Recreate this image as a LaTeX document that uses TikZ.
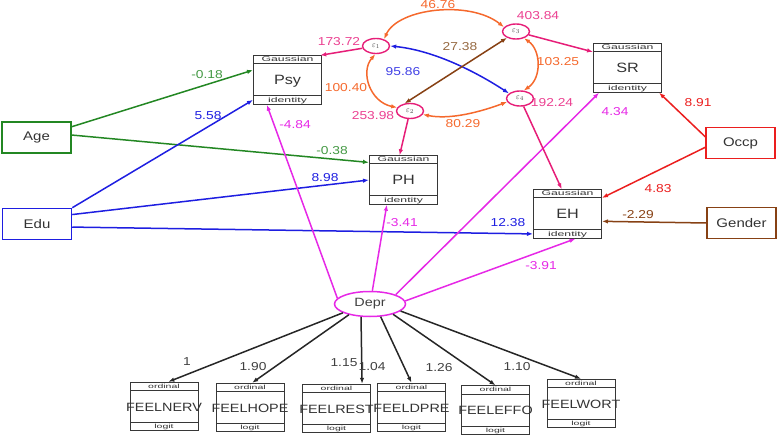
\documentclass[tikz,border=0pt]{standalone}
\usepackage{fontspec}
\setmainfont{Liberation Sans}[FakeStretch=1.2]
\newfontfamily\stripfont{Liberation Sans}[FakeStretch=1.75]
\usepackage{xcolor}
\usepackage{tikz}
\usetikzlibrary{shapes,arrows.meta,positioning}
\definecolor{agegreen}{RGB}{35,135,35}
\definecolor{edublue}{RGB}{30,30,225}
\definecolor{occred}{RGB}{235,30,30}
\definecolor{genbrown}{RGB}{135,65,20}
\definecolor{deprmag}{RGB}{230,40,230}
\definecolor{errpink}{RGB}{230,30,120}
\definecolor{varpink}{RGB}{235,65,145}
\definecolor{covorange}{RGB}{245,105,45}
\definecolor{covbrown}{RGB}{150,105,65}
\definecolor{boxgray}{RGB}{55,55,55}
\tikzstyle{arrow} = [line width=1.5pt,-{Latex[length=6pt,width=4.5pt]}]
\tikzstyle{covar} = [line width=1.5pt,{Latex[length=6pt,width=4.5pt]}-{Latex[length=6pt,width=4.5pt]}]
\newcommand{\strip}[2]{{\stripfont\fontsize{#1}{#1}\selectfont\rule[-1.6pt]{0pt}{7.2pt}#2}}
\newcommand{\boxtext}[2]{{\fontsize{#1}{#1}\selectfont\rule[-11pt]{0pt}{31pt}\makebox[0pt]{#2}}}

\begin{document}
\begin{tikzpicture}[x=1pt,y=-1pt]
    \tikzstyle{outcome}=[draw=boxgray, line width=1pt, rectangle split, rectangle split parts=3, minimum width=68pt, inner sep=0pt, text=black!80]
    \tikzstyle{exo}=[draw, rectangle, minimum width=69pt, minimum height=31pt, line width=1.5pt, text=black!80, font=\fontsize{12.5}{13}\selectfont]
    \tikzstyle{latent}=[draw=deprmag, ellipse, minimum width=71pt, minimum height=25pt, line width=1.5pt, inner sep=0pt, text=black!75, font=\fontsize{12}{12}\selectfont]
    \tikzstyle{err}=[draw=errpink, ellipse, minimum width=27pt, minimum height=15pt, inner sep=0pt, line width=1.4pt, text=black!70, font=\fontsize{8}{8}\selectfont]
    \tikzstyle{coef}=[inner sep=1pt, font=\fontsize{11.5}{12}\selectfont]
    \useasboundingbox (0,0) rectangle (778,435);

    \node[exo, draw=agegreen] (age) at (36.5,137.5) {Age};
    \node[exo, draw=edublue] (edu) at (37,224) {Edu};
    \node[exo, draw=occred] (occp) at (740.5,143) {Occp};
    \node[exo, draw=genbrown] (gender) at (741.5,223) {Gender};

    \node[outcome] (psy) at (287.5,80) {\strip{7}{Gaussian}\nodepart{two}\boxtext{13.5}{Psy}\nodepart{three}\strip{7}{identity}};
    \node[outcome] (ph) at (403.5,180) {\strip{7}{Gaussian}\nodepart{two}\boxtext{13.5}{PH}\nodepart{three}\strip{7}{identity}};
    \node[outcome] (sr) at (627.5,68) {\strip{7}{Gaussian}\nodepart{two}\boxtext{13.5}{SR}\nodepart{three}\strip{7}{identity}};
    \node[outcome] (eh) at (567.5,214) {\strip{7}{Gaussian}\nodepart{two}\boxtext{13.5}{EH}\nodepart{three}\strip{7}{identity}};

    \node[outcome] (nerv) at (164,406.5) {\strip{6}{ordinal}\nodepart{two}\boxtext{12}{FEELNERV}\nodepart{three}\strip{6}{logit}};
    \node[outcome] (hope) at (250,407.5) {\strip{6}{ordinal}\nodepart{two}\boxtext{12}{FEELHOPE}\nodepart{three}\strip{6}{logit}};
    \node[outcome] (rest) at (336.5,408.5) {\strip{6}{ordinal}\nodepart{two}\boxtext{12}{FEELREST}\nodepart{three}\strip{6}{logit}};
    \node[outcome] (dpre) at (411.5,407.5) {\strip{6}{ordinal}\nodepart{two}\boxtext{12}{FEELDPRE}\nodepart{three}\strip{6}{logit}};
    \node[outcome] (effo) at (495.5,410) {\strip{6}{ordinal}\nodepart{two}\boxtext{12}{FEELEFFO}\nodepart{three}\strip{6}{logit}};
    \node[outcome] (wort) at (581,403.5) {\strip{6}{ordinal}\nodepart{two}\boxtext{12}{FEELWORT}\nodepart{three}\strip{6}{logit}};

    \node[latent] (depr) at (370,304) {Depr};
    \node[err] (e1) at (376,46) {$\varepsilon_1$};
    \node[err] (e2) at (410,111) {$\varepsilon_2$};
    \node[err] (e3) at (516,31.5) {$\varepsilon_3$};
    \node[err] (e4) at (520,98.5) {$\varepsilon_4$};

    \draw[arrow, agegreen] (age.17) -- (psy.164);
    \draw[arrow, agegreen] (age.4) -- (ph.153);
    \draw[arrow, edublue] (edu.north east) -- (psy.210);
    \draw[arrow, edublue] (edu.15) -- (ph.west);
    \draw[arrow, edublue] (edu.355) -- (eh.210);
    \draw[arrow, occred] (occp.170) -- (sr.322);
    \draw[arrow, occred] (occp.187) -- (eh.25);
    \draw[arrow, genbrown] (gender.west) -- (eh.348);
    \draw[arrow, deprmag] (depr.170) -- (psy.230);
    \draw[arrow, deprmag] (depr.80) -- (ph.236);
    \draw[arrow, deprmag] (depr.20) -- (sr.221);
    \draw[arrow, deprmag] (depr.5) -- (eh.288);
    \draw[arrow, errpink] (e1) -- (psy.37);
    \draw[arrow, errpink] (e2) -- (ph.99);
    \draw[arrow, errpink] (e3) -- (sr.155);
    \draw[arrow, errpink] (e4) -- (eh.103);
    \foreach \a/\t/\b in {198/nerv/80, 207/hope/85, 235/rest/44, 310/dpre/90, 336/effo/90, 347/wort/90}
        \draw[arrow, black!85] (depr.\a) -- (\t.\b);

    \draw[covar, covorange] (e1.40) .. controls (398,8) and (470,0) .. (e3.160);
    \draw[covar, covorange] (e1.265) .. controls (360,72) and (370,102) .. (e2.165);
    \draw[covar, edublue] (e1.0) .. controls (430,50) and (470,68) .. (e4.155);
    \draw[covar, genbrown] (e3.215) -- (e2.125);
    \draw[covar, covorange] (e3.320) .. controls (541,50) and (542,78) .. (e4.65);
    \draw[covar, covorange] (e2.345) .. controls (450,120) and (480,112) .. (e4.195);

    \node[coef, text=agegreen!85] (c1) at (207,75) {-0.18};
    \node[coef, text=agegreen!85] (c2) at (332,151) {-0.38};
    \node[coef, text=edublue] (c3) at (208,116) {5.58};
    \node[coef, text=edublue] (c4) at (325,178) {8.98};
    \node[coef, text=edublue] (c5) at (508,223) {12.38};
    \node[coef, text=deprmag] (c6) at (295,125) {-4.84};
    \node[coef, text=deprmag] (c7) at (402,223) {-3.41};
    \node[coef, text=deprmag] (c8) at (615,112) {4.34};
    \node[coef, text=deprmag] (c9) at (541,266) {-3.91};
    \node[coef, text=occred] (c10) at (698,103) {8.91};
    \node[coef, text=occred] (c11) at (658,189) {4.83};
    \node[coef, text=genbrown] (c12) at (638,215) {-2.29};
    \node[coef, text=varpink] (v1) at (339,42) {173.72};
    \node[coef, text=varpink] (v2) at (373,116) {253.98};
    \node[coef, text=varpink] (v3) at (538,16) {403.84};
    \node[coef, text=varpink] (v4) at (552,103) {192.24};
    \node[coef, text=covorange] (k1) at (438,5) {46.76};
    \node[coef, text=covorange] (k2) at (346,88) {100.40};
    \node[coef, text=edublue!85] (k3) at (403,72) {95.86};
    \node[coef, text=covbrown] (k4) at (460,47) {27.38};
    \node[coef, text=covorange] (k5) at (558,62) {103.25};
    \node[coef, text=covorange] (k6) at (463,124) {80.29};
    \node[coef, text=black!75] (m1) at (187,362) {1};
    \node[coef, text=black!75] (m2) at (253,367) {1.90};
    \node[coef, text=black!75] (m3) at (344,363) {1.15};
    \node[coef, text=black!75] (m4) at (372,367) {1.04};
    \node[coef, text=black!75] (m5) at (439,368) {1.26};
    \node[coef, text=black!75] (m6) at (517,367) {1.10};
\end{tikzpicture}
\end{document}
